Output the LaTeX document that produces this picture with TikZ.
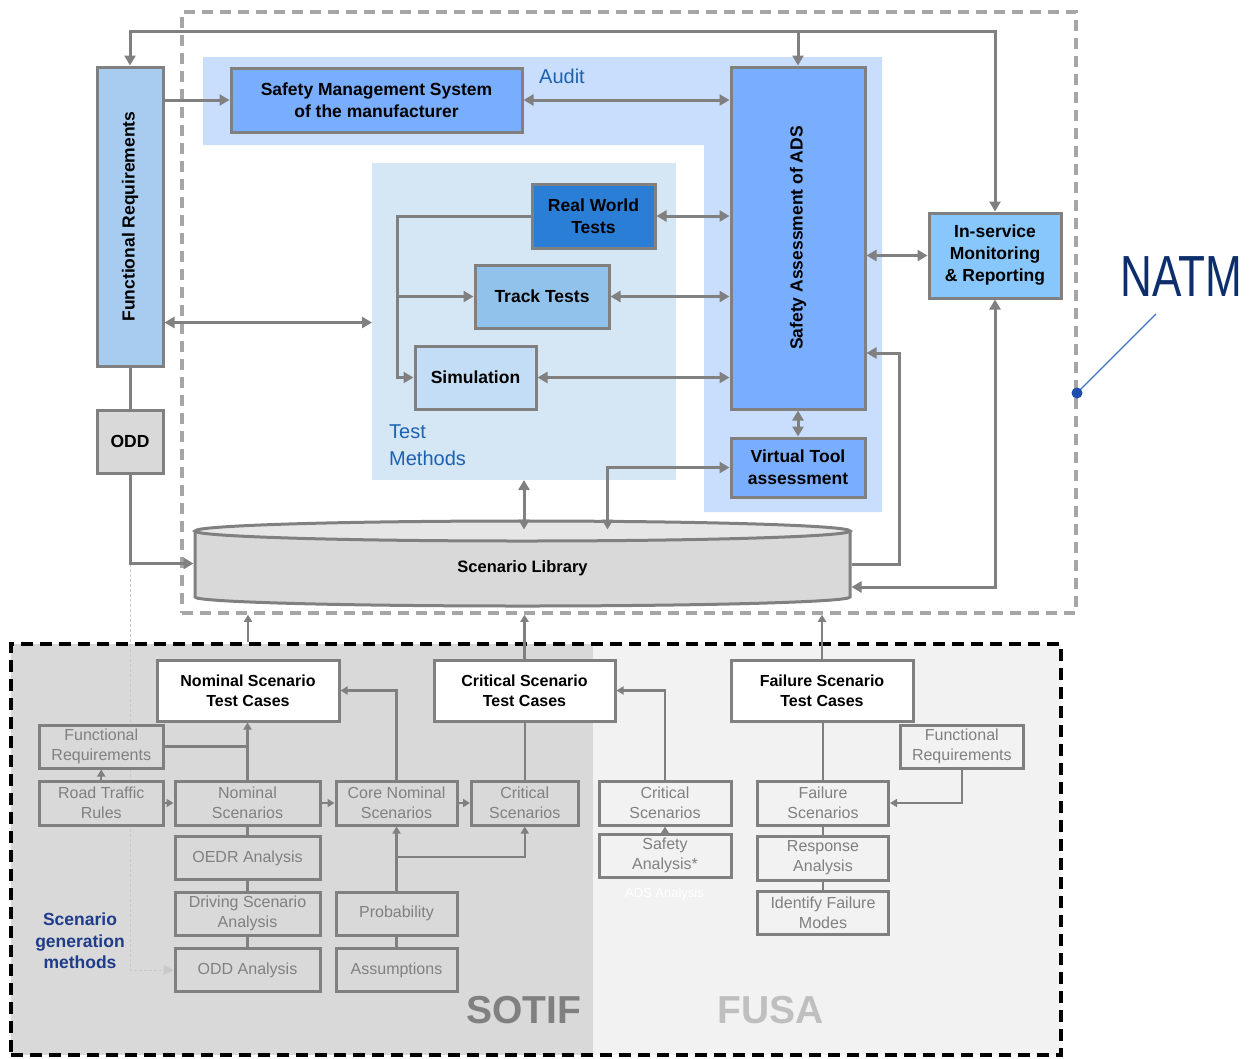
\documentclass[tikz,border=0pt]{standalone}
\usepackage{fontspec}
\setmainfont{Liberation Sans}
\newfontfamily\natmfont[FakeStretch=0.76]{Liberation Sans}
\usetikzlibrary{arrows.meta}

% layers: area fills, then the faint guide line, then everything else
\pgfdeclarelayer{areas}
\pgfdeclarelayer{guide}
\pgfsetlayers{areas,guide,main}

% palette
\definecolor{linegray}{HTML}{808080}
\definecolor{framegray}{HTML}{A6A6A6}
\definecolor{sotifbg}{HTML}{D9D9D9}
\definecolor{fusabg}{HTML}{F2F2F2}
\definecolor{auditbg}{HTML}{C9DEFC}
\definecolor{tmbg}{HTML}{D5E6F5}
\definecolor{frfill}{HTML}{A7CCF0}
\definecolor{midblue}{HTML}{78AEFD}
\definecolor{ismfill}{HTML}{87C7FB}
\definecolor{rwfill}{HTML}{2A7ED6}
\definecolor{ttfill}{HTML}{91C2EB}
\definecolor{simfill}{HTML}{C2DDF5}
\definecolor{cylbody}{HTML}{D9D9D9}
\definecolor{cyltop}{HTML}{E6E6E6}
\definecolor{labelblue}{HTML}{1C62B0}
\definecolor{navy}{HTML}{1F3C88}
\definecolor{natmblue}{HTML}{0E2D6B}
\definecolor{pointerblue}{HTML}{4472C4}
\definecolor{dotblue}{HTML}{1F4EAA}
\definecolor{faint}{HTML}{C8C8C8}
\definecolor{fusatext}{HTML}{BFBFBF}

% type sizes
\newcommand\boxbold{\fontsize{17.5}{22}\selectfont\bfseries}
\newcommand\smallbold{\fontsize{16}{20}\selectfont\bfseries}
\newcommand\grayreg{\fontsize{16}{20}\selectfont}
\newcommand\bluelabel{\fontsize{20}{27}\selectfont}

\begin{document}
\begin{tikzpicture}[x=1pt,y=-1pt,
  topbox/.style={draw=linegray, line width=3pt, inner sep=0pt, align=center, font=\boxbold},
  tcbox/.style={draw=linegray, line width=3pt, fill=white, inner sep=0pt, align=center, font=\smallbold},
  gbox/.style={draw=linegray, line width=3pt, fill=sotifbg, inner sep=0pt, align=center, text=linegray, font=\grayreg},
  fbox/.style={gbox, fill=fusabg},
  natmframe/.style={draw=framegray, line width=3.5pt, dash pattern=on 11pt off 7pt, inner sep=0pt},
  genframe/.style={draw=black, line width=4pt, dash pattern=on 12pt off 7pt, inner sep=0pt},
  topconn/.style={draw=linegray, line width=3pt, >={Triangle[length=10pt,width=11pt]}},
  lowconn/.style={draw=linegray, line width=2.2pt, >={Triangle[length=7pt,width=8pt]}},
  faintconn/.style={draw=faint, line width=1pt, dash pattern=on 3pt off 2pt, >={Triangle[length=10pt,width=10pt]}}
]
\useasboundingbox (0,0) rectangle (1252,1058);

% ---------- area fills ----------
\begin{pgfonlayer}{areas}
\fill[white] (0,0) rectangle (1252,1058);
\fill[sotifbg] (11,644) rectangle (593,1055);
\fill[fusabg] (593,644) rectangle (1061,1055);
\fill[auditbg] (203,57) -- (882,57) -- (882,512) -- (704,512) -- (704,145) -- (203,145) -- cycle;
\end{pgfonlayer}
\node[fill=tmbg, minimum width=304, minimum height=317, inner sep=0pt, outer sep=0pt] (tm) at (524,321.5) {};

% ---------- frames ----------
\node[natmframe, minimum width=894, minimum height=601] (natmbox) at (629,312.5) {};
\node[genframe, minimum width=1050, minimum height=411] (genbox) at (536,849.5) {};

% ---------- upper boxes ----------
\node[topbox, fill=frfill, minimum width=66, minimum height=299] (fr) at (130,216.5) {};
\node[rotate=90, font=\boxbold] at (fr.center) {Functional Requirements};
\node[topbox, fill=sotifbg, minimum width=66, minimum height=63] (odd) at (130,441.5) {ODD};
\node[topbox, fill=midblue, minimum width=291, minimum height=64] (sms) at (376.5,100) {Safety Management System\\of the manufacturer};
\node[topbox, fill=midblue, minimum width=134, minimum height=342] (sa) at (798,238) {};
\node[rotate=90, font=\boxbold] at (sa.center) {Safety Assessment of ADS};
\node[topbox, fill=ismfill, minimum width=132, minimum height=85] (ism) at (995,255.5) {In-service\\Monitoring\\\&\ Reporting};
\node[topbox, fill=rwfill, minimum width=123, minimum height=64] (rw) at (593.5,216) {Real World\\Tests};
\node[topbox, fill=ttfill, minimum width=134, minimum height=63] (tt) at (542,296.5) {Track Tests};
\node[topbox, fill=simfill, minimum width=121, minimum height=63] (sim) at (475.5,377.5) {Simulation};
\node[topbox, fill=midblue, minimum width=134, minimum height=59] (vt) at (798,467.5) {Virtual Tool\\assessment};

\node[font=\bluelabel, text=labelblue] (audit) at (562,76) {Audit};
\node[font=\bluelabel, text=labelblue, align=left, anchor=west, inner sep=0pt] (tmlabel) at (389,445.5) {Test\\Methods};

% ---------- scenario library cylinder ----------
\path[fill=cylbody, draw=linegray, line width=3pt] (195,531) -- (195,597)
  .. controls (195,602) and (341.7,606) .. (522.5,606)
  .. controls (703.3,606) and (850,602) .. (850,597) -- (850,531);
\draw[fill=cyltop, draw=linegray, line width=3pt] (522.5,531) ellipse [x radius=327.5, y radius=10];
\node[font=\fontsize{16.5}{20}\selectfont\bfseries, minimum width=655, minimum height=75, inner sep=0pt, outer sep=1.5pt] (sl) at (522.5,568.5) {Scenario Library};

% ---------- NATM label ----------
\node[font=\natmfont\fontsize{58}{60}\selectfont, text=natmblue, inner sep=0pt] (natm) at (1181,277) {NATM};
\coordinate (natmtail) at (1156,314);
\coordinate (natmdot) at (1077,393);
\draw[pointerblue, line width=1.2pt] (natmtail) -- (natmdot);
\fill[dotblue] (natmdot) circle (5.5);

% ---------- upper connectors ----------
\coordinate (tl) at (0,31);
\coordinate (yfrtm) at (0,322.5);
\coordinate (tmx) at (397,0);
\coordinate (vtx) at (607.5,0);
\coordinate (bx) at (899,0);
\coordinate (y353) at (0,353);
\coordinate (y563) at (0,563.5);
\coordinate (y587) at (0,587);

\draw[topconn, <->] (fr.north) |- (ism.north |- tl) -- (ism.north);
\draw[topconn, ->] (sa.north |- tl) -- (sa.north);
\draw[topconn, ->] (fr.east |- sms.west) -- (sms.west);
\draw[topconn, <->] (sms.east) -- (sms.east -| sa.west);
\draw[topconn, <->] (fr.east |- yfrtm) -- (tm.west |- yfrtm);
\draw[topconn, ->] (rw.west) -| (tmx |- sim.west) -- (sim.west);
\draw[topconn, ->] (tmx |- tt.west) -- (tt.west);
\draw[topconn, <->] (rw.east) -- (rw.east -| sa.west);
\draw[topconn, <->] (tt.east) -- (tt.east -| sa.west);
\draw[topconn, <->] (sim.east) -- (sim.east -| sa.west);
\draw[topconn, <->] (sa.east |- ism.west) -- (ism.west);
\draw[topconn, <->] (sa.south) -- (vt.north);
\draw[topconn, ->] (sl.east |- sl.center) ++(0,-4.5) -| (bx |- y353) -- (sa.east |- y353);
\draw[topconn, <->] (ism.south) -- (ism.south |- y587) -- (sl.east |- y587);
\draw[topconn, <->] (vt.west) -| (vtx |- sl.north);
\draw[topconn, <->] (tm.south) -- (tm.south |- sl.north);
\draw[topconn] (fr.south) -- (odd.north);
\draw[topconn, ->] (odd.south) |- (sl.west |- y563);

% ---------- lower boxes ----------
\node[tcbox, minimum width=182, minimum height=61] (nomtc) at (248,690.5) {Nominal Scenario\\Test Cases};
\node[tcbox, minimum width=181, minimum height=61] (crittc) at (524.5,690.5) {Critical Scenario\\Test Cases};
\node[tcbox, minimum width=182, minimum height=61] (failtc) at (822,690.5) {Failure Scenario\\Test Cases};

\node[gbox, minimum width=123.5, minimum height=43] (frl) at (101.25,746.5) {Functional\\Requirements};
\node[gbox, minimum width=123.5, minimum height=44] (rtr) at (101.25,803) {Road Traffic\\Rules};
\node[gbox, minimum width=145, minimum height=44] (nomsc) at (247.5,803) {Nominal\\Scenarios};
\node[gbox, minimum width=121, minimum height=44] (core) at (396.5,803) {Core Nominal\\Scenarios};
\node[gbox, minimum width=106.5, minimum height=44] (crit) at (524.75,803) {Critical\\Scenarios};
\node[gbox, minimum width=145, minimum height=43] (oedr) at (247.5,858) {OEDR Analysis};
\node[gbox, minimum width=145, minimum height=43] (dsa) at (247.5,913.5) {Driving Scenario\\Analysis};
\node[gbox, minimum width=145, minimum height=43.5] (odda) at (247.5,970) {ODD Analysis};
\node[gbox, minimum width=121, minimum height=43] (prob) at (396.5,913.5) {Probability};
\node[gbox, minimum width=121, minimum height=43.5] (assum) at (396.5,970) {Assumptions};

\node[fbox, minimum width=132, minimum height=44] (cfs) at (665,803) {Critical\\Scenarios};
\node[fbox, minimum width=132, minimum height=43] (safan) at (665,855.5) {Safety\\Analysis*};
\node[text=white, font=\fontsize{13}{15}\selectfont] (adsan) at (664.5,894) {ADS Analysis};
\node[fbox, minimum width=131, minimum height=44] (fails) at (823,803) {Failure\\Scenarios};
\node[fbox, minimum width=131, minimum height=44] (resp) at (823,858) {Response\\Analysis};
\node[fbox, minimum width=131, minimum height=43.5] (ident) at (823,912.75) {Identify Failure\\Modes};
\node[fbox, minimum width=123.6, minimum height=43] (frr) at (961.8,746.5) {Functional\\Requirements};

\node[font=\fontsize{17.5}{21.5}\selectfont\bfseries, text=navy, align=center] (sgm) at (80,941) {Scenario\\generation\\methods};
\node[font=\fontsize{39}{40}\selectfont\bfseries, text=linegray] (sotif) at (524,1010) {SOTIF};
\node[font=\fontsize{39}{40}\selectfont\bfseries, text=fusatext] (fusa) at (771,1010) {FUSA};

% faint guide from the ODD line down to the ODD analysis, running under the boxes
\begin{pgfonlayer}{guide}
\draw[faintconn, ->] (odd.south |- y563) |- (odda.west);
\end{pgfonlayer}

% ---------- lower connectors ----------
\coordinate (y857) at (0,857);
\draw[lowconn, ->] (nomtc.north |- genbox.north) -- (nomtc.north |- natmbox.south);
\draw[lowconn, ->] (crittc.north) -- (crittc.north |- natmbox.south);
\draw[lowconn, ->] (failtc.north) -- (failtc.north |- natmbox.south);
\draw[lowconn, ->] (nomsc.north) -- (nomsc.north |- nomtc.south);
\draw[lowconn] (frl.east) -- (frl.east -| nomsc.north);
\draw[lowconn, ->] (rtr.north) -- (frl.south);
\draw[lowconn, ->] (rtr.east) -- (nomsc.west);
\draw[lowconn, ->] (nomsc.east) -- (core.west);
\draw[lowconn, ->] (core.east) -- (crit.west);
\draw[lowconn, ->] (core.north) |- (nomtc.east);
\draw[lowconn] (crit.north) -- (crit.north |- crittc.south);
\draw[lowconn] (nomsc.south) -- (oedr.north);
\draw[lowconn] (oedr.south) -- (dsa.north);
\draw[lowconn] (dsa.south) -- (odda.north);
\draw[lowconn, ->] (prob.north) -- (core.south);
\draw[lowconn, ->] (prob.north |- y857) -| (crit.south);
\draw[lowconn] (prob.south) -- (assum.north);
\draw[lowconn, ->] (cfs.north) |- (crittc.east);
\draw[lowconn, ->] (safan.north) -- (cfs.south);
\draw[lowconn] (fails.north) -- (fails.north |- failtc.south);
\draw[lowconn, ->] (frr.south) |- (fails.east);
\draw[lowconn] (fails.south) -- (resp.north);
\draw[lowconn] (resp.south) -- (ident.north);
\end{tikzpicture}
\end{document}
